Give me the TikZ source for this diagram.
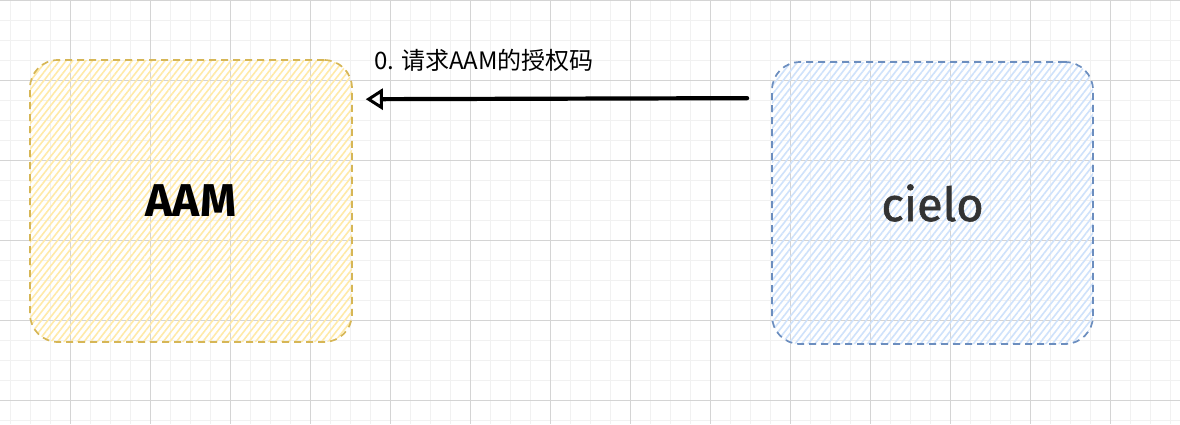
\documentclass[tikz,border=0pt]{standalone}
\usepackage{fontspec}
\setmainfont{Fira Sans}
\newfontfamily\cjk{Noto Sans CJK SC}
\newfontfamily\cielofont[FakeBold=1.2]{Fira Sans}
\usetikzlibrary{arrows.meta,patterns.meta,calc}
\definecolor{gridmajor}{HTML}{D4D4D4}
\definecolor{gridminor}{HTML}{F1F1F1}
\definecolor{aamline}{HTML}{D6B656}
\definecolor{aamfill}{HTML}{FFEAA8}
\definecolor{cieloline}{HTML}{6C8EBF}
\definecolor{cielofill}{HTML}{CFE2FB}
\definecolor{textdark}{HTML}{333333}
\tikzset{
  minorline/.style={gridminor, line width=1pt},
  majorline/.style={gridmajor, line width=1pt},
  sketchbox/.style={rounded corners=28pt, line width=1.7pt, dash pattern=on 7pt off 5pt,
    minimum width=322pt, minimum height=282pt, inner sep=0pt,
    pattern={Lines[angle=52, distance=5.2pt, line width=1.6pt]}},
  conn/.style={line width=4.2pt, line cap=round,
    -{Triangle[open, length=17pt, width=21pt, line width=3pt]}},
  lbl/.style={font=\cjk\fontsize{24}{28}\selectfont, inner sep=0pt, text=black}
}
\begin{document}
\begin{tikzpicture}[x=1pt,y=-1pt]
\useasboundingbox (0,0) rectangle (1180,424);
\fill[white] (0,0) rectangle (1180,424);
\foreach \x in {10,30,...,1170} \draw[minorline] (\x,0) -- (\x,424);
\foreach \y in {0,20,...,420} \draw[minorline] (0,\y) -- (1180,\y);
\foreach \x in {70,150,...,1110} \draw[majorline] (\x,0) -- (\x,424);
\foreach \y in {0,80,...,400} \draw[majorline] (0,\y) -- (1180,\y);

\node[sketchbox, draw=aamline, pattern color=aamfill,
      font=\fontsize{46}{50}\selectfont\bfseries, text=black] (aam) at (191,201) {AAM};
\node[sketchbox, draw=cieloline, pattern color=cielofill, minimum width=321pt,
      font=\cielofont\fontsize{47}{50}\selectfont, text=textdark] (cielo) at (932.5,203) {cielo};

\draw[conn] ($(cielo.north west)+(-24,37)$) coordinate (a0s) -- ($(aam.north east)+(13,40)$) coordinate (a0e);
\node[lbl, anchor=west] (l0) at ($(aam.north east)+(21,1)$) {0. 请求AAM的授权码};
\end{tikzpicture}
\end{document}
